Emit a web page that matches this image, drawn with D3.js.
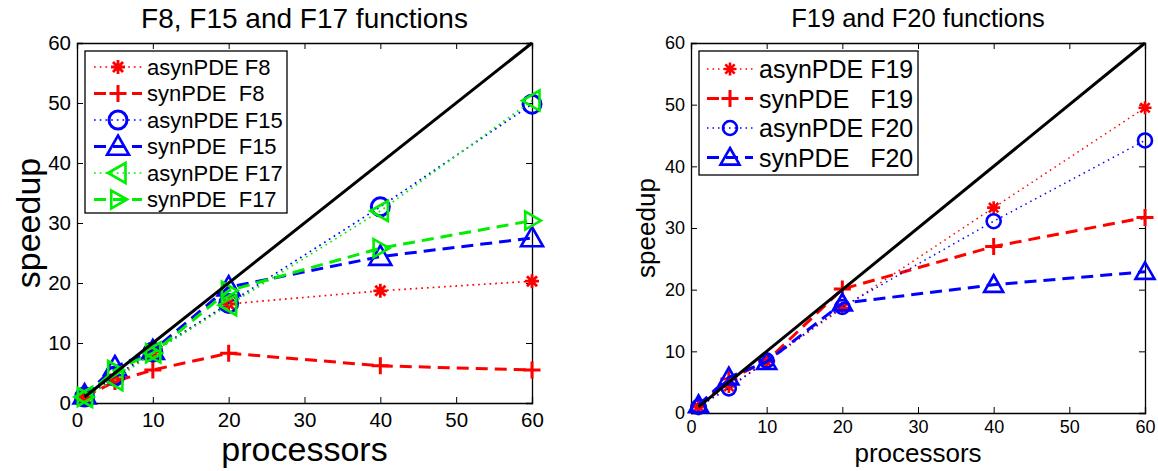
<!DOCTYPE html>
<html>
<head>
<meta charset="utf-8">
<script src="https://cdn.jsdelivr.net/npm/d3@7"></script>
<style>
  body { margin: 0; background: #fff; }
  svg { display: block; font-family: "Liberation Sans", Arial, Helvetica, sans-serif; }
  text { white-space: pre; }
</style>
</head>
<body>
<svg id="chart" width="1158" height="471"></svg>
<script>
// processors used in every run
const procs = [1, 5, 10, 20, 40, 60];

// left panel: F8, F15, F17
const asynF8  = [1, 4.0, 8.5, 16.5, 18.7, 20.3];
const synF8   = [1, 3.6, 5.5, 8.3, 6.2, 5.5];
const asynF15 = [1, 4.5, 8.5, 16.6, 32.7, 49.8];
const synF15  = [1.3, 6.0, 8.7, 19.3, 24.4, 27.5];
const asynF17 = [1, 3.8, 8.4, 16.3, 32.0, 50.4];
const synF17  = [1, 5.5, 8.3, 18.7, 25.8, 30.4];

// right panel: F19, F20
const asynF19 = [1, 4.3, 8.3, 17.0, 33.3, 49.5];
const synF19  = [1, 5.5, 8.4, 20.1, 27.0, 31.7];
const asynF20 = [1, 4.0, 8.5, 17.2, 31.1, 44.2];
const synF20  = [1.3, 5.8, 8.3, 17.8, 20.8, 22.9];

// ideal speedup
const idealX = [1, 60];
const idealY = [1, 60];

const ticks = [0, 10, 20, 30, 40, 50, 60];

const leftLabels  = ["asynPDE F8", "synPDE  F8", "asynPDE F15", "synPDE  F15", "asynPDE F17", "synPDE  F17"];
const rightLabels = ["asynPDE F19", "synPDE   F19", "asynPDE F20", "synPDE   F20"];

const RED = "#ff0000", BLUE = "#0000ff", GREEN = "#00ee00";

const svg = d3.select("#chart");

// marker path of half-size s, centered at 0,0
function markerPath(kind, s) {
  const p = d3.path();
  if (kind === "star") {
    const d = s * 0.72;
    p.moveTo(-s, 0); p.lineTo(s, 0);
    p.moveTo(0, -s); p.lineTo(0, s);
    p.moveTo(-d, -d); p.lineTo(d, d);
    p.moveTo(-d, d); p.lineTo(d, -d);
  } else if (kind === "plus") {
    p.moveTo(-s, 0); p.lineTo(s, 0);
    p.moveTo(0, -s); p.lineTo(0, s);
  } else if (kind === "circle") {
    p.moveTo(s, 0); p.arc(0, 0, s, 0, 2 * Math.PI);
  } else if (kind === "triUp") {
    p.moveTo(0, -s); p.lineTo(s, s * 0.75); p.lineTo(-s, s * 0.75); p.closePath();
  } else if (kind === "triLeft") {
    p.moveTo(-s, 0); p.lineTo(s * 0.75, -s); p.lineTo(s * 0.75, s); p.closePath();
  } else if (kind === "triRight") {
    p.moveTo(s, 0); p.lineTo(-s * 0.75, -s); p.lineTo(-s * 0.75, s); p.closePath();
  }
  return p.toString();
}

function styleLine(sel, st) {
  sel.attr("fill", "none").attr("stroke", st.color)
    .attr("stroke-width", st.dash === "dot" ? st.dotW : st.dashW)
    .attr("stroke-dasharray", st.dash === "dot" ? st.dotPattern : st.dashPattern);
}

function drawPanel(cfg) {
  const g = svg.append("g");
  const x = d3.scaleLinear().domain([0, 60]).range([cfg.left, cfg.right]);
  const y = d3.scaleLinear().domain([0, 60]).range([cfg.bottom, cfg.top]);

  // axes with inward ticks on all four sides
  const tl = 6;
  g.append("g").attr("transform", `translate(0,${cfg.bottom})`)
    .call(d3.axisBottom(x).tickValues(ticks).tickSize(-tl).tickPadding(cfg.xPad))
    .call(a => a.selectAll("text").attr("font-size", cfg.tickFont).attr("fill", "#000").attr("font-family", null));
  g.append("g").attr("transform", `translate(0,${cfg.top})`)
    .call(d3.axisTop(x).tickValues(ticks).tickSize(-tl).tickFormat(""));
  g.append("g").attr("transform", `translate(${cfg.left},0)`)
    .call(d3.axisLeft(y).tickValues(ticks).tickSize(-tl).tickPadding(cfg.yPad))
    .call(a => a.selectAll("text").attr("font-size", cfg.tickFont).attr("fill", "#000").attr("font-family", null));
  g.append("g").attr("transform", `translate(${cfg.right},0)`)
    .call(d3.axisRight(y).tickValues(ticks).tickSize(-tl).tickFormat(""));
  g.selectAll(".domain").attr("stroke", "#000").attr("stroke-width", 1.3);
  g.selectAll(".tick line").attr("stroke", "#000").attr("stroke-width", 1);

  // titles and axis labels
  g.append("text").attr("x", (cfg.left + cfg.right) / 2).attr("y", cfg.titleY)
    .attr("text-anchor", "middle").attr("font-size", cfg.titleFont).text(cfg.title);
  g.append("text").attr("x", (cfg.left + cfg.right) / 2).attr("y", cfg.xLabelY)
    .attr("text-anchor", "middle").attr("font-size", cfg.labelFont).text("processors");
  g.append("text")
    .attr("transform", `translate(${cfg.yLabelX},${(cfg.top + cfg.bottom) / 2}) rotate(-90)`)
    .attr("text-anchor", "middle").attr("font-size", cfg.labelFont).text("speedup");

  const line = d3.line().x(d => x(d[0])).y(d => y(d[1]));

  // data series
  cfg.series.forEach(s => {
    const pts = procs.map((p, i) => [p, s.values[i]]);
    g.append("path").datum(pts).attr("d", line).call(styleLine, Object.assign({}, cfg.style, s));
    g.append("g").selectAll("path").data(pts).join("path")
      .attr("transform", d => `translate(${x(d[0])},${y(d[1])})`)
      .attr("d", markerPath(s.marker, cfg.markerSize[s.marker]))
      .attr("fill", "none").attr("stroke", s.color).attr("stroke-width", cfg.markerW[s.marker]);
  });

  // ideal line on top
  g.append("path").datum(idealX.map((v, i) => [v, idealY[i]])).attr("d", line)
    .attr("fill", "none").attr("stroke", "#000").attr("stroke-width", 3);

  // legend
  const lg = g.append("g");
  lg.append("rect").attr("x", cfg.leg.x0).attr("y", cfg.leg.y0)
    .attr("width", cfg.leg.x1 - cfg.leg.x0).attr("height", cfg.leg.y1 - cfg.leg.y0)
    .attr("fill", "#fff").attr("stroke", "#000").attr("stroke-width", 1.3);
  cfg.series.forEach((s, i) => {
    const cy = cfg.leg.row0 + i * cfg.leg.step;
    lg.append("line").attr("x1", cfg.leg.l0).attr("x2", cfg.leg.l1).attr("y1", cy).attr("y2", cy)
      .call(styleLine, Object.assign({}, cfg.style, s));
    lg.append("path").attr("transform", `translate(${(cfg.leg.l0 + cfg.leg.l1) / 2},${cy})`)
      .attr("d", markerPath(s.marker, cfg.markerSize[s.marker]))
      .attr("fill", "none").attr("stroke", s.color).attr("stroke-width", cfg.markerW[s.marker]);
    lg.append("text").attr("x", cfg.leg.tx).attr("y", cy).attr("dy", "0.36em")
      .attr("font-size", cfg.legFont).text(cfg.labels[i]);
  });
}

drawPanel({
  left: 77, right: 532, top: 43, bottom: 403,
  title: "F8, F15 and F17 functions", titleY: 28, titleFont: 28,
  xLabelY: 461, yLabelX: 40, labelFont: 34, tickFont: 20.5, legFont: 22,
  xPad: 9, yPad: 6,
  markerW: { star: 2.8, plus: 3, circle: 3, triUp: 2.6, triLeft: 2.6, triRight: 2.6 },
  markerSize: { star: 7, plus: 8.5, circle: 9, triUp: 11, triLeft: 10, triRight: 9 },
  style: { dotW: 1.7, dotPattern: "1.7 4", dashW: 3, dashPattern: "12 7" },
  leg: { x0: 85, x1: 287, y0: 51, y1: 213, row0: 67, step: 26.5, l0: 94, l1: 142, tx: 147 },
  labels: leftLabels,
  series: [
    { values: asynF8,  color: RED,   dash: "dot",  marker: "star" },
    { values: synF8,   color: RED,   dash: "dash", marker: "plus" },
    { values: asynF15, color: BLUE,  dash: "dot",  marker: "circle" },
    { values: synF15,  color: BLUE,  dash: "dash", marker: "triUp" },
    { values: asynF17, color: GREEN, dash: "dot",  marker: "triLeft" },
    { values: synF17,  color: GREEN, dash: "dash", marker: "triRight" }
  ]
});

drawPanel({
  left: 691, right: 1145, top: 43, bottom: 413,
  title: "F19 and F20 functions", titleY: 27, titleFont: 25.5,
  xLabelY: 462, yLabelX: 655, labelFont: 26, tickFont: 18, legFont: 25,
  xPad: 7, yPad: 6,
  markerW: { star: 2.6, plus: 3, circle: 2.6, triUp: 2.6 },
  markerSize: { star: 6.5, plus: 8.5, circle: 7, triUp: 9.5 },
  style: { dotW: 1.5, dotPattern: "1.5 4", dashW: 3, dashPattern: "12 7" },
  leg: { x0: 699, x1: 918, y0: 51, y1: 175, row0: 69, step: 29.5, l0: 707, l1: 753, tx: 759 },
  labels: rightLabels,
  series: [
    { values: asynF19, color: RED,  dash: "dot",  marker: "star" },
    { values: synF19,  color: RED,  dash: "dash", marker: "plus" },
    { values: asynF20, color: BLUE, dash: "dot",  marker: "circle" },
    { values: synF20,  color: BLUE, dash: "dash", marker: "triUp" }
  ]
});
</script>
</body>
</html>
